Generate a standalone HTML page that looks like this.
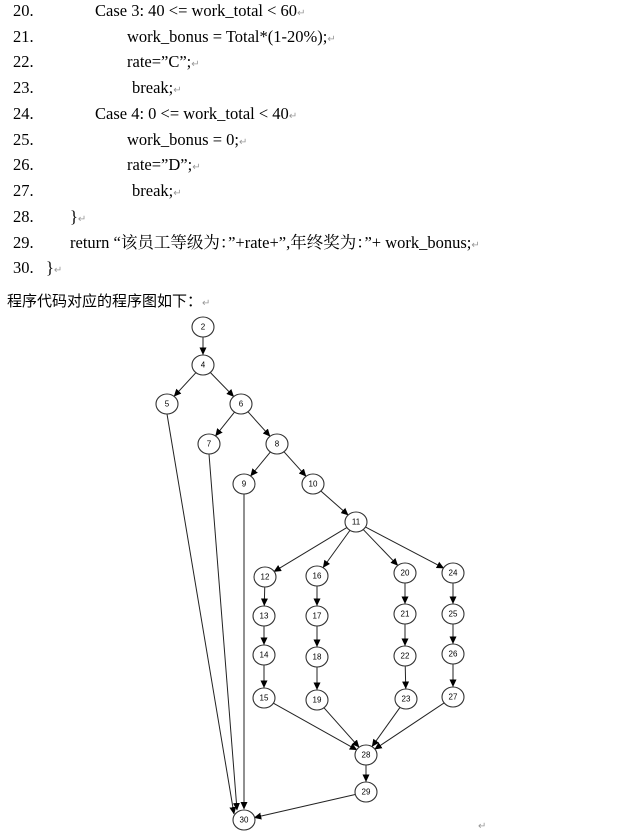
<!DOCTYPE html>
<html><head><meta charset="utf-8"><style>
body{margin:0;background:#fff;width:625px;height:837px;overflow:hidden;position:relative;font-family:"Liberation Serif","Noto Serif CJK SC",serif;color:#000}
.l{position:absolute;font-size:16.5px;white-space:nowrap;line-height:18px}
.n{left:13px}
.r{color:#999;font-size:10px}
svg{position:absolute;left:0;top:0}
svg text{font-family:"Liberation Sans",sans-serif;font-size:8px;text-anchor:middle;dominant-baseline:central}
</style></head><body>
<div class="l n" style="top:2px">20.</div><div class="l" style="top:2px;left:95px">Case 3: 40 &lt;= work_total &lt; 60<span class="r">↵</span></div>
<div class="l n" style="top:28px">21.</div><div class="l" style="top:28px;left:127px">work_bonus = Total*(1-20%);<span class="r">↵</span></div>
<div class="l n" style="top:53px">22.</div><div class="l" style="top:53px;left:127px">rate=”C”;<span class="r">↵</span></div>
<div class="l n" style="top:79px">23.</div><div class="l" style="top:79px;left:132px">break;<span class="r">↵</span></div>
<div class="l n" style="top:105px">24.</div><div class="l" style="top:105px;left:95px">Case 4: 0 &lt;= work_total &lt; 40<span class="r">↵</span></div>
<div class="l n" style="top:131px">25.</div><div class="l" style="top:131px;left:127px">work_bonus = 0;<span class="r">↵</span></div>
<div class="l n" style="top:156px">26.</div><div class="l" style="top:156px;left:127px">rate=”D”;<span class="r">↵</span></div>
<div class="l n" style="top:182px">27.</div><div class="l" style="top:182px;left:132px">break;<span class="r">↵</span></div>
<div class="l n" style="top:208px">28.</div><div class="l" style="top:208px;left:70px">}<span class="r">↵</span></div>
<div class="l n" style="top:234px">29.</div><div class="l" style="top:234px;left:70px">return “该员工等级为：”+rate+”,年终奖为：”+ work_bonus;<span class="r">↵</span></div>
<div class="l n" style="top:259px">30.</div><div class="l" style="top:259px;left:46px">}<span class="r">↵</span></div>
<div class="l" style="top:293px;left:7px;font-size:15px;font-family:'Liberation Sans','Noto Sans CJK SC',sans-serif">程序代码对应的程序图如下：<span class="r">↵</span></div>
<div class="l r" style="top:818px;left:478px">↵</div>
<svg id="g" width="625" height="837"><defs><marker id="a" markerWidth="8" markerHeight="8" refX="7" refY="4" orient="auto" markerUnits="userSpaceOnUse"><path d="M0,0.5 L7.5,4 L0,7.5 z" fill="#000"/></marker></defs></svg>
<script>
var N={2:[203,327],4:[203,365],5:[167,404],6:[241,404],7:[209,444],8:[277,444],9:[244,484],10:[313,484],11:[356,522],12:[265,577],16:[317,576],20:[405,573],24:[453,573],13:[264,616],14:[264,655],15:[264,698],17:[317,616],18:[317,657],19:[317,700],21:[405,614],22:[405,656],23:[406,699],25:[453,614],26:[453,654],27:[453,697],28:[366,755],29:[366,792],30:[244,820]};
var E=[[2,4],[4,5],[4,6],[6,7],[6,8],[8,9],[8,10],[10,11],[11,12],[11,16],[11,20],[11,24],[12,13],[13,14],[14,15],[16,17],[17,18],[18,19],[20,21],[21,22],[22,23],[24,25],[25,26],[26,27],[15,28],[19,28],[23,28],[27,28],[28,29],[29,30]];
var s='',R=10.5;
E.forEach(function(e){var a=N[e[0]],b=N[e[1]],dx=b[0]-a[0],dy=b[1]-a[1],d=Math.sqrt(dx*dx+dy*dy),ux=dx/d,uy=dy/d;
s+='<line x1="'+(a[0]+ux*R)+'" y1="'+(a[1]+uy*R)+'" x2="'+(b[0]-ux*R)+'" y2="'+(b[1]-uy*R)+'" stroke="#222" stroke-width="1" marker-end="url(#a)"/>';});
[[5,234,814],[7,237,810],[9,244,809]].forEach(function(t){var a=N[t[0]];s+='<line x1="'+a[0]+'" y1="'+(a[1]+10)+'" x2="'+t[1]+'" y2="'+t[2]+'" stroke="#222" stroke-width="1" marker-end="url(#a)"/>';});
for(var k in N){var p=N[k];s+='<ellipse cx="'+p[0]+'" cy="'+p[1]+'" rx="11" ry="10" fill="#fff" stroke="#333" stroke-width="1.1"/><text x="'+p[0]+'" y="'+p[1]+'">'+k+'</text>';}
document.getElementById('g').insertAdjacentHTML('beforeend',s);
</script>
</body></html>
